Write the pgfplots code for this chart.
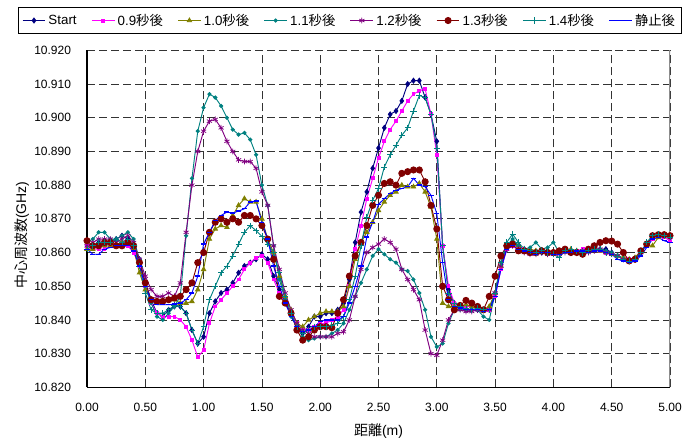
\documentclass[border=0pt]{standalone}
\usepackage{fontspec}
\setmainfont{Liberation Sans}
\newfontfamily\cjk{Noto Sans CJK JP}
\usepackage{pgfplots}
\usepackage{pgfplotstable}
\pgfplotsset{compat=1.18}

\definecolor{cStart}{RGB}{0,0,128}
\definecolor{cNine}{RGB}{255,0,255}
\definecolor{cTen}{RGB}{128,128,0}
\definecolor{cEleven}{RGB}{0,128,128}
\definecolor{cTwelve}{RGB}{128,0,128}
\definecolor{cThirteen}{RGB}{128,0,0}
\definecolor{cFourteen}{RGB}{0,128,128}
\definecolor{cRest}{RGB}{0,0,255}

% distance [m] vs. centre frequency [GHz] for each time step
\pgfplotstableread{
x    st       a09      a10      a11      a12      a13      a14      rest
0.00 10.862   10.862   10.861   10.863   10.862   10.8635  10.861   10.861
0.05 10.862   10.861   10.861   10.864   10.863   10.862   10.862   10.8595
0.10 10.863   10.861   10.862   10.866   10.864   10.862   10.863   10.8595
0.15 10.862   10.861   10.862   10.866   10.864   10.863   10.863   10.861
0.20 10.863   10.862   10.862   10.864   10.864   10.863   10.863   10.8615
0.25 10.864   10.862   10.862   10.864   10.863   10.862   10.864   10.862
0.30 10.865   10.862   10.863   10.865   10.864   10.862   10.863   10.862
0.35 10.864   10.862   10.863   10.866   10.865   10.863   10.864   10.862
0.40 10.862   10.860   10.861   10.864   10.863   10.862   10.862   10.8605
0.45 10.858   10.856   10.854   10.858   10.858   10.857   10.856   10.856
0.50 10.851   10.850   10.849   10.850   10.853   10.851   10.848   10.850
0.55 10.846   10.845   10.846   10.845   10.849   10.846   10.843   10.846
0.60 10.842   10.842   10.845   10.841   10.847   10.8455  10.842   10.8445
0.65 10.841   10.841   10.846   10.840   10.847   10.8455  10.842   10.8445
0.70 10.843   10.841   10.846   10.842   10.848   10.846   10.843   10.8445
0.75 10.844   10.841   10.846   10.844   10.847   10.8465  10.8443  10.8447
0.80 10.844   10.840   10.845   10.847   10.851   10.847   10.844   10.845
0.85 10.842   10.838   10.845   10.865   10.866   10.849   10.842   10.846
0.90 10.837   10.834   10.8455  10.882   10.880   10.851   10.837   10.848
0.95 10.833   10.829   10.849   10.896   10.890   10.857   10.833   10.853
1.00 10.835   10.831   10.855   10.903   10.896   10.860   10.838   10.8625
1.05 10.842   10.839   10.864   10.907   10.899   10.866   10.846   10.866
1.10 10.8455  10.844   10.867   10.906   10.8995  10.869   10.850   10.8695
1.15 10.848   10.846   10.868   10.9035  10.897   10.870   10.854   10.871
1.20 10.849   10.848   10.8675  10.900   10.893   10.869   10.856   10.872
1.25 10.851   10.850   10.871   10.8965  10.890   10.870   10.859   10.8717
1.30 10.854   10.852   10.874   10.895   10.8875  10.869   10.8625  10.8723
1.35 10.856   10.855   10.876   10.8955  10.887   10.871   10.866   10.873
1.40 10.857   10.857   10.875   10.8935  10.887   10.871   10.868   10.875
1.45 10.858   10.8585  10.875   10.889   10.885   10.870   10.8665  10.8753
1.50 10.8595  10.859   10.870   10.880   10.878   10.868   10.8648  10.869
1.55 10.858   10.857   10.864   10.874   10.874   10.864   10.8625  10.864
1.60 10.853   10.852   10.860   10.862   10.862   10.858   10.860   10.856
1.65 10.849   10.848   10.853   10.852   10.855   10.847   10.854   10.850
1.70 10.845   10.845   10.847   10.846   10.848   10.845   10.847   10.845
1.75 10.842   10.842   10.843   10.841   10.843   10.842   10.842   10.841
1.80 10.838   10.839   10.839   10.838   10.839   10.837   10.838   10.838
1.85 10.836   10.837   10.838   10.835   10.837   10.834   10.836   10.8365
1.90 10.838   10.837   10.840   10.834   10.836   10.835   10.837   10.837
1.95 10.841   10.838   10.841   10.8345  10.835   10.837   10.838   10.838
2.00 10.841   10.839   10.842   10.835   10.835   10.838   10.838   10.8395
2.05 10.842   10.839   10.8425  10.835   10.835   10.838   10.838   10.840
2.10 10.842   10.840   10.8425  10.836   10.835   10.8377  10.8385  10.840
2.15 10.843   10.841   10.8425  10.837   10.836   10.842   10.839   10.840
2.20 10.845   10.843   10.844   10.839   10.8365  10.846   10.841   10.841
2.25 10.852   10.850   10.850   10.843   10.840   10.853   10.846   10.845
2.30 10.863   10.861   10.858   10.847   10.847   10.859   10.853   10.850
2.35 10.872   10.868   10.863   10.851   10.855   10.863   10.862   10.856
2.40 10.878   10.876   10.866   10.855   10.860   10.868   10.8705  10.8646
2.45 10.885   10.882   10.869   10.859   10.8615  10.874   10.8755  10.869
2.50 10.891   10.888   10.8725  10.861   10.8625  10.877   10.879   10.8743
2.55 10.897   10.893   10.875   10.8595  10.864   10.8805  10.8854  10.876
2.60 10.901   10.8965  10.877   10.858   10.863   10.881   10.889   10.8775
2.65 10.902   10.899   10.878   10.857   10.861   10.880   10.8918  10.8785
2.70 10.905   10.902   10.880   10.855   10.855   10.8835  10.8948  10.879
2.75 10.910   10.905   10.8795  10.8545  10.852   10.884   10.897   10.8795
2.80 10.911   10.907   10.8795  10.852   10.849   10.8845  10.902   10.882
2.85 10.911   10.908   10.8805  10.848   10.846   10.8845  10.9066  10.880
2.90 10.906   10.9085  10.878   10.843   10.837   10.881   10.906   10.8795
2.95 10.901   10.901   10.8735  10.835   10.830   10.874   10.901   10.877
3.00 10.893   10.889   10.864   10.832   10.8295  10.867   10.891   10.8715
3.05 10.862   10.862   10.845   10.833   10.834   10.850   10.862   10.857
3.10 10.849   10.850   10.844   10.839   10.840   10.846   10.848   10.846
3.15 10.845   10.845   10.844   10.843   10.843   10.843   10.845   10.844
3.20 10.844   10.844   10.844   10.843   10.843   10.8443  10.844   10.8435
3.25 10.843   10.844   10.8445  10.843   10.8425  10.8458  10.8435  10.843
3.30 10.843   10.844   10.844   10.843   10.8425  10.845   10.843   10.843
3.35 10.843   10.844   10.8435  10.843   10.843   10.844   10.8435  10.843
3.40 10.843   10.843   10.843   10.841   10.843   10.843   10.843   10.8425
3.45 10.843   10.843   10.844   10.840   10.843   10.847   10.843   10.843
3.50 10.848   10.847   10.848   10.848   10.848   10.853   10.848   10.847
3.55 10.856   10.855   10.856   10.857   10.856   10.859   10.857   10.855
3.60 10.861   10.861   10.862   10.862   10.861   10.862   10.863   10.861
3.65 10.863   10.862   10.863   10.864   10.862   10.8625  10.8655  10.862
3.70 10.862   10.861   10.862   10.862   10.861   10.8605  10.863   10.861
3.75 10.861   10.861   10.861   10.861   10.860   10.8605  10.861   10.8605
3.80 10.8605  10.8605  10.861   10.8615  10.8595  10.860   10.8605  10.860
3.85 10.860   10.860   10.8605  10.863   10.8595  10.860   10.860   10.8595
3.90 10.860   10.8605  10.860   10.861   10.860   10.8605  10.8605  10.860
3.95 10.8605  10.860   10.8605  10.8615  10.8595  10.860   10.860   10.860
4.00 10.860   10.8595  10.860   10.863   10.8595  10.860   10.8595  10.8595
4.05 10.860   10.860   10.860   10.860   10.8595  10.8605  10.8585  10.8595
4.10 10.8605  10.8605  10.8605  10.8605  10.860   10.861   10.8605  10.860
4.15 10.860   10.860   10.861   10.8605  10.8605  10.860   10.861   10.860
4.20 10.860   10.8605  10.8605  10.860   10.860   10.860   10.8605  10.8605
4.25 10.8605  10.861   10.860   10.8605  10.8605  10.8595  10.860   10.8605
4.30 10.8605  10.8605  10.8605  10.861   10.860   10.861   10.8605  10.860
4.35 10.861   10.861   10.861   10.861   10.8605  10.862   10.861   10.8605
4.40 10.861   10.8605  10.8605  10.861   10.861   10.863   10.861   10.8605
4.45 10.861   10.860   10.860   10.8605  10.860   10.8635  10.860   10.860
4.50 10.860   10.8595  10.8595  10.860   10.8595  10.8634  10.8595  10.8595
4.55 10.859   10.859   10.859   10.859   10.859   10.8625  10.859   10.858
4.60 10.858   10.858   10.8585  10.858   10.858   10.860   10.858   10.8575
4.65 10.8575  10.858   10.858   10.8575  10.8575  10.8575  10.8575  10.857
4.70 10.858   10.8585  10.8585  10.858   10.858   10.858   10.858   10.8575
4.75 10.860   10.8605  10.8605  10.860   10.860   10.8605  10.860   10.859
4.80 10.8625  10.8625  10.862   10.8625  10.8625  10.8625  10.863   10.8615
4.85 10.8645  10.864   10.862   10.865   10.8645  10.865   10.865   10.864
4.90 10.865   10.8645  10.8645  10.8655  10.865   10.8653  10.8655  10.8645
4.95 10.865   10.8645  10.865   10.8655  10.865   10.8653  10.865   10.8635
5.00 10.8645  10.8635  10.865   10.865   10.8645  10.865   10.8645  10.863
}\freqdata

\begin{document}
\begin{tikzpicture}
\begin{axis}[
  scale only axis,
  width=437.25pt, height=252.75pt,
  xmin=0, xmax=5, ymin=10.82, ymax=10.92,
  xtick={0,0.5,1,1.5,2,2.5,3,3.5,4,4.5,5},
  ytick={10.82,10.83,10.84,10.85,10.86,10.87,10.88,10.89,10.90,10.91,10.92},
  xticklabel style={/pgf/number format/fixed, /pgf/number format/fixed zerofill,
    /pgf/number format/precision=2, /pgf/number format/assume math mode=true},
  yticklabel style={/pgf/number format/fixed, /pgf/number format/fixed zerofill,
    /pgf/number format/precision=3, /pgf/number format/assume math mode=true},
  x tick label style={yshift=-8pt},
  y tick label style={xshift=-8.5pt},
  tick label style={font=\fontsize{9}{11}\selectfont},
  scaled ticks=false,
  tick style={draw=none},
  grid=major,
  major grid style={dash pattern=on 6pt off 3pt, black!80, line width=0.6pt},
  axis x line*=bottom, axis y line*=left,
  axis line style={black, line width=0.8pt, -},
  xlabel={{\cjk 距離}(m)},
  ylabel={{\cjk 中心周波数}(GHz)},
  label style={font=\fontsize{10.5}{12}\selectfont},
  xlabel style={at={(axis description cs:0.5,-0.1306)}, anchor=center},
  ylabel style={at={(axis description cs:-0.112,0.452)}, anchor=center},
  legend columns=-1,
  legend style={at={(axis description cs:0.451,1)}, anchor=south, yshift=12.5pt,
    draw=black, line width=0.8pt, fill=white,
    font=\fontsize{10}{12}\selectfont, inner sep=2.5pt,
    /tikz/every even column/.append style={column sep=9pt}},
  every axis plot/.append style={line width=0.7pt},
]
\draw[black!45, line width=0.8pt] (axis cs:5,10.82) -- (axis cs:5,10.92);

\addplot[color=cStart, mark=diamond*, mark size=1.8pt] table[x=x, y=st] {\freqdata};
\addlegendentry{Start}
\addplot[color=cNine, mark=square*, mark size=1.1pt] table[x=x, y=a09] {\freqdata};
\addlegendentry{0.9{\cjk 秒後}}
\addplot[color=cTen, mark=triangle*, mark size=1.8pt] table[x=x, y=a10] {\freqdata};
\addlegendentry{1.0{\cjk 秒後}}
\addplot[color=cEleven, mark=*, mark size=1.2pt] table[x=x, y=a11] {\freqdata};
\addlegendentry{1.1{\cjk 秒後}}
\addplot[color=cTwelve, mark=asterisk, mark size=2.2pt, mark options={line width=0.55pt}] table[x=x, y=a12] {\freqdata};
\addlegendentry{1.2{\cjk 秒後}}
\addplot[color=cThirteen, mark=*, mark size=2.3pt] table[x=x, y=a13] {\freqdata};
\addlegendentry{1.3{\cjk 秒後}}
\addplot[color=cFourteen, mark=+, mark size=2.3pt, mark options={line width=0.55pt}] table[x=x, y=a14] {\freqdata};
\addlegendentry{1.4{\cjk 秒後}}
\addplot[color=cRest, mark=-, mark size=1.9pt, mark options={line width=1pt}] table[x=x, y=rest] {\freqdata};
\addlegendentry{{\cjk 静止後}}
\end{axis}
\pgfresetboundingbox
\useasboundingbox (-65.25pt,-39.75pt) rectangle (453pt,290.5pt);
\end{tikzpicture}
\end{document}
